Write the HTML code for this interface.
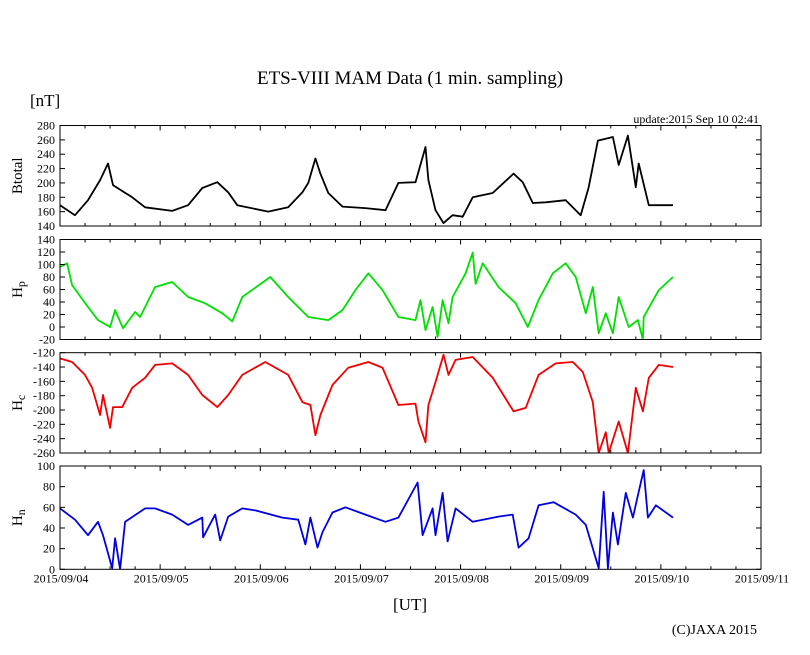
<!DOCTYPE html>
<html><head><meta charset="utf-8"><style>
html,body{margin:0;padding:0;background:#fff;}
svg{display:block;font-family:"Liberation Serif",serif;}
</style></head><body>
<svg id="chart" width="810" height="655" viewBox="0 0 810 655">
<text x="410" y="84" font-size="19" text-anchor="middle">ETS-VIII MAM Data (1 min. sampling)</text>
<text x="30" y="106" font-size="17">[nT]</text>
<text x="759" y="123" font-size="12" text-anchor="end">update:2015 Sep 10 02:41</text>
<text x="410" y="610" font-size="17" text-anchor="middle">[UT]</text>
<text x="757" y="634" font-size="14" text-anchor="end">(C)JAXA 2015</text>
<g id="panels"></g>
</svg>
<script>
const xTickLabels = ["2015/09/04","2015/09/05","2015/09/06","2015/09/07","2015/09/08","2015/09/09","2015/09/10","2015/09/11"];
const btTimes = [0,3.6,6.7,9.6,11.5,12.7,17.3,20.4,26.9,30.7,34.1,37.7,40.3,42.5,49.9,54.7,58.1,59.5,61.2,62.4,64.3,67.7,73.2,78,81.1,85.2,87.6,88.3,90,91.9,94.1,96.5,98.9,103.7,108.7,110.9,113.3,116.4,121.2,124.8,126.7,128.9,132.5,133.9,136.1,138,138.7,141.1,146.9];
const btValues = [169,155,176,204,227,197,180,166,161,169,193,201,187,169,160,166,187,200,234,213,186,167,165,162,200,201,250,204,162,144,155,153,180,186,213,201,172,173,176,155,194,259,264,225,266,194,227,169,169];
const hpTimes = [0,1.7,2.9,6.7,9.1,12,13.2,15.1,18,19.2,22.8,26.9,30.7,34.8,38.9,41.3,43.7,50.4,54.7,59.5,64.3,67.7,70.8,73.9,77.3,81.1,85.2,86.4,87.6,89.3,90.5,91.7,93.1,94.1,97.2,98.9,99.6,101.3,105.1,109.2,112.1,114.7,118.1,121.2,123.6,126,127.7,129.1,130.8,132.5,133.9,136.3,138.5,139.7,139.9,143.5,146.9];
const hpValues = [96,102,67,32,11,0,27,-2,24,16,64,72,48,38,22,9,48,80,48,16,11,27,59,86,59,16,11,43,-5,32,-16,43,6,48,86,119,69,102,64,38,0,43,86,102,80,22,64,-10,22,-10,48,0,11,-20,16,59,80];
const hcTimes = [0,2.9,6,7.7,9.6,10.3,12,12.7,14.9,17.3,20.4,22.8,26.9,30.7,34.1,37.7,40.3,43.7,49.2,54.7,58.1,60,61.2,62.4,65.3,69.1,73.9,77.3,81.1,85.2,85.9,87.6,88.3,90,91.9,93.1,94.8,98.9,103.7,108.7,111.6,114.7,118.8,122.9,125.3,127.7,129.1,130.8,131.5,133.9,136.1,138,139.7,141.1,143.5,146.9];
const hcValues = [-128,-133,-151,-169,-207,-179,-225,-196,-196,-169,-155,-137,-135,-151,-179,-196,-179,-151,-133,-151,-189,-193,-235,-207,-165,-141,-133,-141,-193,-191,-216,-245,-193,-161,-123,-151,-130,-126,-155,-202,-197,-151,-135,-133,-147,-189,-260,-231,-260,-216,-260,-169,-202,-155,-137,-140];
const hnTimes = [0,3.6,6.7,9.1,10.3,12.5,13.2,14.4,15.6,20.4,22.8,26.9,30.7,34.1,34.3,37.2,38.4,40.3,43.7,46.8,53.3,57.1,58.8,60,61.7,62.9,65.3,68.4,73.2,78,81.1,85.7,86.9,89.3,90,91.7,92.9,94.8,98.9,105.1,108.5,109.9,112.3,114.7,118.3,123.6,126,129.1,130.3,131.3,132.5,133.7,135.6,137.3,138.7,139.9,140.9,142.8,146.9];
const hnValues = [59,48,33,46,33,1,30,0,46,59,59,53,43,50,31,53,28,51,59,57,50,48,24,50,21,36,55,60,53,46,50,84,33,59,33,74,27,59,46,51,53,21,30,62,65,53,43,1,75,1,55,24,74,50,75,96,50,62,50];
const btTicks = [140,160,180,200,220,240,260,280];
const hpTicks = [-20,0,20,40,60,80,100,120,140];
const hcTicks = [-260,-240,-220,-200,-180,-160,-140,-120];
const hnTicks = [0,20,40,60,80,100];

const NS = "http://www.w3.org/2000/svg";
const X0 = 60, X1 = 761, HOURS = 168;
function xScale(h){ return X0 + h / HOURS * (X1 - X0); }
function mk(tag, attrs){ const e = document.createElementNS(NS, tag); for (const k in attrs) e.setAttribute(k, attrs[k]); return e; }
const root = document.getElementById('panels');
const panels = [
  {name:'btotal', label:'Btotal', sub:'', top:125.5, bot:226, ticks:btTicks, t:btTimes, v:btValues, color:'#000'},
  {name:'hp', label:'H', sub:'p', top:239.5, bot:339.5, ticks:hpTicks, t:hpTimes, v:hpValues, color:'#00e000'},
  {name:'hc', label:'H', sub:'c', top:352.7, bot:453, ticks:hcTicks, t:hcTimes, v:hcValues, color:'#f00000'},
  {name:'hn', label:'H', sub:'n', top:466, bot:569.3, ticks:hnTicks, t:hnTimes, v:hnValues, color:'#0000e0'}
];
panels.forEach((p, pi) => {
  const g = mk('g', {});
  
  
  root.appendChild(g);
  const lo = p.ticks[0], hi = p.ticks[p.ticks.length-1];
  const y = v => p.bot - (v - lo) / (hi - lo) * (p.bot - p.top);
  const cid = 'clip' + pi;
  const cp = mk('clipPath', {id: cid});
  cp.appendChild(mk('rect', {x:X0, y:p.top, width:X1-X0, height:p.bot-p.top}));
  g.appendChild(cp);
  let d = '';
  const n = Math.min(p.t.length, p.v.length);
  for (let i = 0; i < n; i++) d += (i ? 'L' : 'M') + xScale(p.t[i]).toFixed(1) + ',' + y(p.v[i]).toFixed(1);
  const path = mk('path', {d:d, fill:'none', stroke:p.color, 'stroke-width':1.8, 'stroke-linejoin':'round', 'clip-path':'url(#'+cid+')'});
  
  
  g.appendChild(path);
  const fr = mk('rect', {x:X0, y:p.top, width:X1-X0, height:p.bot-p.top, fill:'none', stroke:'#000', 'stroke-width':1});
  
  
  g.appendChild(fr);
  p.ticks.forEach(tv => {
    const yy = y(tv);
    g.appendChild(mk('line', {x1:X0, x2:X0+5, y1:yy, y2:yy, stroke:'#000'}));
    g.appendChild(mk('line', {x1:X1-5, x2:X1, y1:yy, y2:yy, stroke:'#000'}));
    const tl = mk('text', {x:55, y:yy+4, 'font-size':12, 'text-anchor':'end'});
    
    
    tl.textContent = tv;
    g.appendChild(tl);
  });
  for (let h = 0; h <= HOURS; h += 6) {
    const xx = xScale(h), len = (h % 24 === 0) ? 5 : 3;
    g.appendChild(mk('line', {x1:xx, x2:xx, y1:p.bot, y2:p.bot-len, stroke:'#000'}));
    g.appendChild(mk('line', {x1:xx, x2:xx, y1:p.top, y2:p.top+len, stroke:'#000'}));
  }
  const cy = (p.top + p.bot) / 2;
  const yt = mk('text', {x:0, y:0, 'font-size':15, 'text-anchor':'middle', transform:'translate(22,'+cy+') rotate(-90)'});
  
  
  yt.textContent = p.label;
  if (p.sub) { const s = mk('tspan', {'font-size':12, dy:3}); s.textContent = p.sub; yt.appendChild(s); }
  g.appendChild(yt);
});
const last = panels[panels.length-1];
xTickLabels.forEach((lab, i) => {
  const t = mk('text', {x:xScale(i*24)+1, y:last.bot+13, 'font-size':12, 'text-anchor':'middle'});
  
  
  t.textContent = lab;
  document.getElementById('chart').appendChild(t);
});
</script>
</body></html>
